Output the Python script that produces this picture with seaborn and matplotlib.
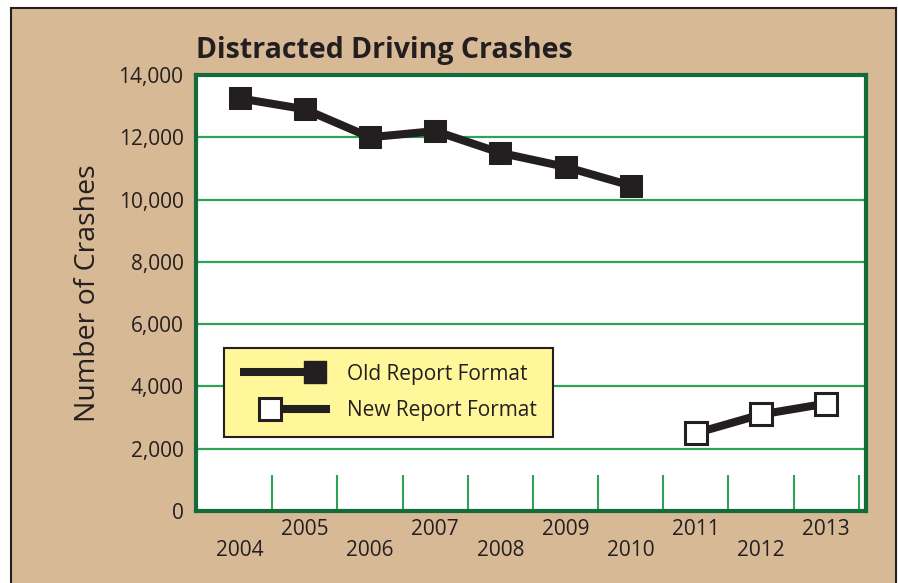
import numpy as np
import pandas as pd
import matplotlib
matplotlib.use("Agg")
import matplotlib.pyplot as plt
import seaborn as sns
from matplotlib.patches import Rectangle
from matplotlib.lines import Line2D
from matplotlib.legend_handler import HandlerLine2D
from matplotlib.ticker import FuncFormatter

# ==========================
# DATA
# ==========================
old_years = [2004, 2005, 2006, 2007, 2008, 2009, 2010]
old_crashes = [13250, 12900, 12000, 12200, 11500, 11050, 10450]

new_years = [2011, 2012, 2013]
new_crashes = [2500, 3100, 3450]

all_years = list(range(2004, 2014))
y_ticks = [0, 2000, 4000, 6000, 8000, 10000, 12000, 14000]

# ==========================
# STYLE
# ==========================
tan = "#D8B996"
ink = "#231F20"
dark_green = "#136B3A"
grid_green = "#2EA356"
legend_yellow = "#FFF79A"

sns.set_style("white")
plt.rcParams["font.family"] = ["Open Sans", "DejaVu Sans"]

fig = plt.figure(figsize=(8.98, 5.83), dpi=100)
fig.patch.set_facecolor("white")

# tan panel behind everything
fig.add_artist(Rectangle((11 / 898, -0.05), 885 / 898, 575 / 583 + 0.05,
                         transform=fig.transFigure, facecolor=tan,
                         edgecolor=ink, linewidth=1.5, zorder=-10))

ax = fig.add_axes([196 / 898, 1 - 511 / 583, 670 / 898, 436 / 583])
ax.set_facecolor("white")

old_df = pd.DataFrame({"Year": old_years, "Crashes": old_crashes})
new_df = pd.DataFrame({"Year": new_years, "Crashes": new_crashes})

sns.lineplot(data=old_df, x="Year", y="Crashes", ax=ax, color=ink,
             linewidth=5.8, marker="s", markersize=16,
             markerfacecolor=ink, markeredgecolor=ink, zorder=4)
sns.lineplot(data=new_df, x="Year", y="Crashes", ax=ax, color=ink,
             linewidth=5.8, marker="s", markersize=15.5,
             markerfacecolor="white", markeredgecolor=ink,
             markeredgewidth=2.2, zorder=4)

# ==========================
# AXES
# ==========================
ax.set_xlim(2003.33, 2013.61)
ax.set_ylim(0, 14000)
ax.set_yticks(y_ticks)
ax.yaxis.set_major_formatter(FuncFormatter(lambda v, p: f"{int(v):,}"))
ax.yaxis.grid(True, color=grid_green, linewidth=1.6)
ax.xaxis.grid(False)
ax.set_axisbelow(True)

labels = [str(y) if y % 2 else "\n" + str(y) for y in all_years]
ax.set_xticks(all_years)
ax.set_xticklabels(labels)
for lab in ax.get_xticklabels():
    lab.set_linespacing(0.95)
ax.set_xticks([y + 0.5 for y in all_years], minor=True)
ax.tick_params(axis="x", which="major", length=0, pad=6,
               labelsize=15, labelcolor=ink)
ax.tick_params(axis="x", which="minor", direction="in", length=26,
               width=1.5, color=grid_green, bottom=True)
ax.tick_params(axis="y", length=0, pad=9, labelsize=15, labelcolor=ink)

for side in ["top", "bottom", "left", "right"]:
    ax.spines[side].set_visible(True)
    ax.spines[side].set_color(dark_green)
    ax.spines[side].set_linewidth(3)

ax.set_xlabel("")
ax.set_ylabel("Number of Crashes", fontsize=20.5, color=ink, labelpad=12)
ax.set_title("Distracted Driving Crashes", loc="left", fontsize=20.5,
             fontweight="bold", color=ink, pad=12)


# ==========================
# LEGEND (marker at one end of the line)
# ==========================
class EndMarker(HandlerLine2D):
    def __init__(self, side, **kw):
        super().__init__(numpoints=1, **kw)
        self.side = side

    def create_artists(self, legend, orig_handle, xdescent, ydescent,
                       width, height, fontsize, trans):
        x0 = -xdescent
        y = (height - ydescent) / 2
        if self.side == "right":
            xs, mark = [x0, x0 + width], [1]
        else:
            xs, mark = [x0 + 0.4 * width, x0 + 1.2 * width], [0]
        line = Line2D(xs, [y, y])
        self.update_prop(line, orig_handle, legend)
        line.set_markevery(mark)
        line.set_transform(trans)
        return [line]


h_old = Line2D([], [], color=ink, linewidth=5.8, marker="s", markersize=16,
               markerfacecolor=ink, markeredgecolor=ink,
               solid_capstyle="butt")
h_new = Line2D([], [], color=ink, linewidth=5.8, marker="s", markersize=15.5,
               markerfacecolor="white", markeredgecolor=ink,
               markeredgewidth=2.2, solid_capstyle="butt")

leg = ax.legend([h_old, h_new], ["Old Report Format", "New Report Format"],
                handler_map={h_old: EndMarker("right"), h_new: EndMarker("left")},
                loc="lower left", bbox_to_anchor=(0.042, 0.17),
                borderaxespad=0, frameon=True, fancybox=False,
                facecolor=legend_yellow, edgecolor=ink, framealpha=1,
                fontsize=15, handlelength=3.6, handletextpad=1.55,
                labelspacing=0.75, borderpad=0.75)
leg.get_frame().set_linewidth(1.5)
leg.set_zorder(6)
for t in leg.get_texts():
    t.set_color(ink)

fig.savefig("out.png", dpi=100)
